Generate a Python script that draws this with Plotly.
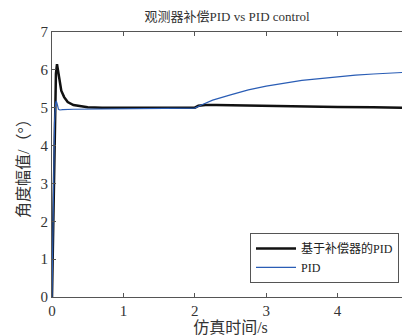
import plotly.graph_objects as go

t_black = [0, 0.02, 0.04, 0.055, 0.07, 0.085, 0.1, 0.13, 0.17, 0.22, 0.3, 0.4, 0.5, 0.7,
           2.0, 2.05, 2.15, 2.3, 2.6, 3.0, 3.5, 4.0, 4.5, 5.0]
y_black = [0, 2.5, 5.0, 5.9, 6.15, 6.0, 5.75, 5.45, 5.28, 5.15, 5.07, 5.03, 5.01, 5.0,
           5.0, 5.05, 5.07, 5.07, 5.06, 5.04, 5.03, 5.02, 5.01, 5.0]

t_blue = [0, 0.02, 0.035, 0.05, 0.06, 0.075, 0.09, 0.11, 0.15, 0.3, 1.0, 2.0, 2.1, 2.25, 2.5,
          2.75, 3.0, 3.25, 3.5, 3.75, 4.0, 4.25, 4.5, 4.75, 5.0]
y_blue = [0, 2.8, 4.6, 5.1, 5.18, 5.08, 4.96, 4.94, 4.95, 4.96, 4.98, 4.99, 5.08, 5.2, 5.34,
          5.47, 5.57, 5.65, 5.72, 5.77, 5.82, 5.86, 5.89, 5.91, 5.94]

x_ticks = [0, 1, 2, 3, 4, 5]
y_ticks = [0, 1, 2, 3, 4, 5, 6, 7]

FONT = "Liberation Serif, Times New Roman, Noto Sans CJK SC, serif"

fig = go.Figure()
fig.add_trace(go.Scatter(x=t_black, y=y_black, mode="lines", name="基于补偿器的PID",
                         line=dict(color="#111111", width=2.5)))
fig.add_trace(go.Scatter(x=t_blue, y=y_blue, mode="lines", name="PID",
                         line=dict(color="#2a5db5", width=1.2)))

axis_common = dict(showgrid=False, zeroline=False, showline=True, linecolor="#555555",
                   linewidth=1, mirror="ticks", ticks="inside", ticklen=4, automargin=False,
                   ticklabeloverflow="allow",
                   tickcolor="#555555", tickfont=dict(family=FONT, size=15, color="#333333"))

fig.update_layout(
    width=402, height=328,
    margin=dict(l=44, r=1, t=24, b=39),
    paper_bgcolor="white", plot_bgcolor="white",
    title=dict(text="观测器补偿PID vs PID control", x=0.545, xanchor="center",
               y=0.975, yanchor="middle", font=dict(family=FONT, size=13, color="#333333")),
    xaxis=dict(range=[0, 5], tickvals=x_ticks, title=dict(text="仿真时间/s", standoff=0,
               font=dict(family=FONT, size=16, color="#333333")), **axis_common),
    yaxis=dict(range=[0, 7], tickvals=y_ticks, title=dict(text="角度幅值/（°）", standoff=6,
               font=dict(family=FONT, size=16, color="#333333")), **axis_common),
    showlegend=True,
    legend=dict(x=0.972, y=0.053, xanchor="right", yanchor="bottom",
                bgcolor="white", bordercolor="#555555", borderwidth=1,
                font=dict(family=FONT, size=12, color="#222222"),
                tracegroupgap=0, itemwidth=40),
)

fig.write_html("out.html")
